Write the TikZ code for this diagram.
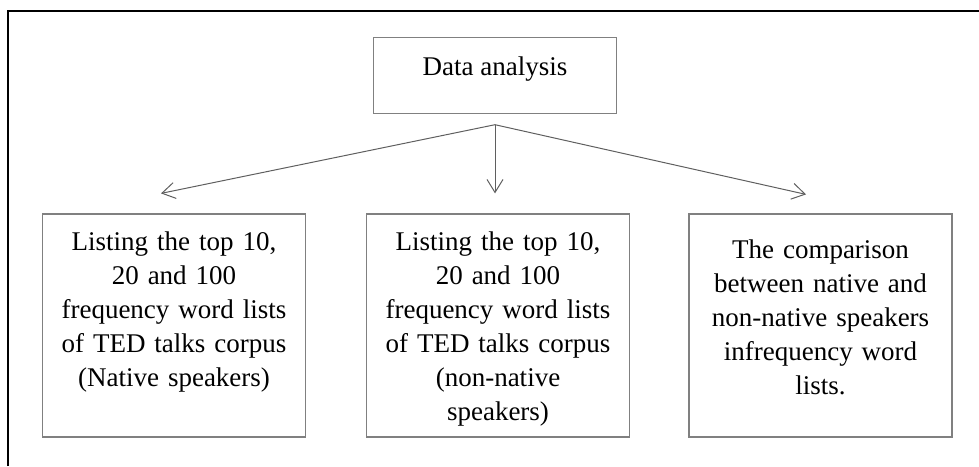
\documentclass[tikz,border=0pt]{standalone}
\usepackage{fontspec}
\setmainfont{Liberation Serif}
\usetikzlibrary{positioning,arrows.meta}

\definecolor{boxgray}{RGB}{128,128,128}
\definecolor{arrowgray}{RGB}{95,95,95}

\tikzset{
  stage/.style={draw=boxgray, line width=1.2pt, align=center, inner xsep=0pt, inner ysep=0pt,
    font=\fontsize{27}{34}\selectfont},
  listbox/.style={stage, text width=263pt},
  link/.style={draw=arrowgray, line width=1pt, -{Straight Barb[length=13pt,width=16pt]}}
}

\begin{document}
\begin{tikzpicture}[x=1pt, y=-1pt]

\useasboundingbox (0,0) rectangle (979,466);

% outer frame
\draw[line width=2pt] (7.5,466) -- (7.5,11) -- (979,11);

% top box
\node[stage, minimum width=243.5pt, text height=38pt, text depth=37.5pt, anchor=base] (analysis) at (495,75.6) {Data analysis};

%1.
\node[listbox, text height=36pt, text depth=187pt, anchor=base] (native) at (174,250) {Listing the top 10,\\ 20 and 100\\ frequency word lists\\ of TED talks corpus\\ (Native speakers)};

%2.
\node[listbox, text height=36pt, text depth=187pt, anchor=base] (nonnative) at (498,250) {Listing the top 10,\\ 20 and 100\\ frequency word lists\\ of TED talks corpus\\ (non-native\\ speakers)};

%3.
\node[listbox, text height=44pt, text depth=179pt, anchor=base] (compare) at (820.5,258) {The comparison\\ between native and\\ non-native speakers\\ infrequency word\\ lists.};

% split point and arrow ends
\coordinate (fork) at ([yshift=-11pt]analysis.south);
\coordinate (tipnative) at ([xshift=-13pt,yshift=20pt]native.north);
\coordinate (tipnonnative) at ([xshift=-3pt,yshift=20pt]nonnative.north);
\coordinate (tipcompare) at ([xshift=-14.5pt,yshift=19pt]compare.north);

% arrows
\draw[link] (fork) -- (tipnative);
\draw[link] (fork) -- (tipnonnative);
\draw[link] (fork) -- (tipcompare);

\end{tikzpicture}
\end{document}
